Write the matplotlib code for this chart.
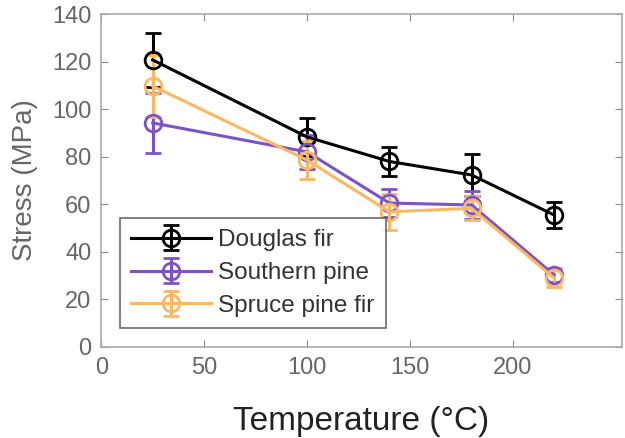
import matplotlib
matplotlib.use("Agg")
import matplotlib.pyplot as plt

temps = [25, 100, 140, 180, 220]

douglas = [120.7, 88.3, 78.0, 72.3, 55.5]
douglas_err = [11.5, 8.0, 6.0, 9.0, 5.5]

southern = [94.2, 82.0, 60.5, 59.7, 30.3]
southern_err = [12.5, 7.0, 6.0, 6.0, 3.0]

spruce = [109.7, 78.6, 56.8, 58.3, 29.0]
spruce_err = [13.0, 8.0, 7.5, 5.0, 4.0]

labels = ['Douglas fir', 'Southern pine', 'Spruce pine fir']
colors = ['black', '#7b52c7', '#fbb862']

plt.rcParams['font.family'] = ['Liberation Sans', 'DejaVu Sans']
fig, ax = plt.subplots(figsize=(6.25, 4.38), dpi=100)
fig.subplots_adjust(left=0.162, right=0.995, top=0.968, bottom=0.208)

series = [(douglas, douglas_err), (southern, southern_err), (spruce, spruce_err)]
for (vals, errs), lab, col in zip(series, labels, colors):
    ax.errorbar(temps, vals, yerr=errs, color=col, marker='o', markersize=12,
                markerfacecolor='none', markeredgewidth=2, linewidth=2.2,
                elinewidth=2.2, capsize=6, capthick=2.5, label=lab)

ax.set_xlim(0, 253)
ax.set_ylim(0, 140)
ax.set_xticks([0, 50, 100, 150, 200])
ax.set_yticks(range(0, 141, 20))
ax.tick_params(direction='in', top=True, right=True, colors='#888888',
               labelcolor='#666666', labelsize=17, length=5, pad=7)
for s in ax.spines.values():
    s.set_color('#aaaaaa')
    s.set_linewidth(1.2)
ax.set_xlabel('Temperature (°C)', fontsize=24, color='#222222', labelpad=20)
ax.set_ylabel('Stress (MPa)', fontsize=20, color='#666666', labelpad=10)

leg = ax.legend(loc='lower left', fontsize=17.5, fancybox=False, edgecolor='#444444',
                handlelength=3.3, handletextpad=0.3, borderpad=0.45, labelspacing=0.45,
                borderaxespad=0, bbox_to_anchor=(0.036, 0.057))
leg.get_frame().set_linewidth(1.2)
for t in leg.get_texts():
    t.set_color('#333333')

fig.savefig('out.png', dpi=100)
